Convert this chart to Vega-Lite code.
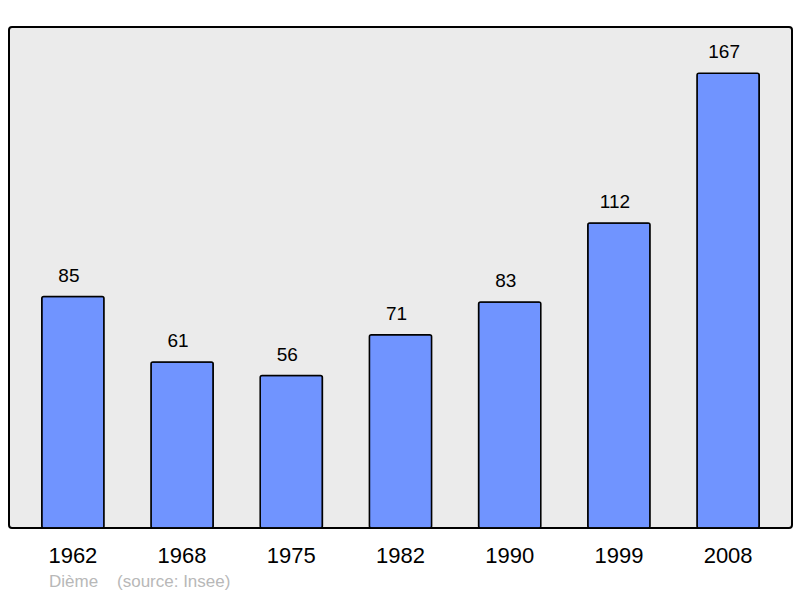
{
  "$schema": "https://vega.github.io/schema/vega-lite/v6.json",
  "autosize": "none",
  "width": 783,
  "height": 501,
  "padding": {"left": 9, "top": 27, "right": 8, "bottom": 70},
  "background": "white",
  "config": {
    "font": "Liberation Sans",
    "view": {"fill": "#ebebeb", "stroke": "#000000", "strokeWidth": 2, "cornerRadius": 3}
  },
  "title": {
    "text": "Dième\u00a0\u00a0\u00a0\u00a0(source: Insee)",
    "orient": "bottom",
    "anchor": "start",
    "dx": 40,
    "offset": 8,
    "fontSize": 17,
    "fontWeight": "normal",
    "color": "#b8b8b8",
    "font": "Liberation Sans"
  },
  "data": {
    "values": [
      {"year": "1962", "pop": 85},
      {"year": "1968", "pop": 61},
      {"year": "1975", "pop": 56},
      {"year": "1982", "pop": 71},
      {"year": "1990", "pop": 83},
      {"year": "1999", "pop": 112},
      {"year": "2008", "pop": 167}
    ]
  },
  "encoding": {
    "x": {
      "field": "year",
      "type": "nominal",
      "sort": null,
      "scale": {"paddingInner": 0.43, "paddingOuter": 0.3},
      "axis": {
        "title": null,
        "labelAngle": 0,
        "labelFontSize": 22,
        "labelColor": "#000000",
        "labelPadding": 17,
        "ticks": false,
        "domain": false,
        "grid": false
      }
    },
    "y": {
      "field": "pop",
      "type": "quantitative",
      "scale": {"domain": [0, 184], "nice": false},
      "axis": null
    }
  },
  "layer": [
    {
      "mark": {"type": "bar", "fill": "#7094ff", "stroke": "#000000", "strokeWidth": 1.5, "cornerRadius": 2}
    },
    {
      "mark": {"type": "text", "baseline": "alphabetic", "dy": -15, "dx": -4, "fontSize": 19, "color": "#000000"},
      "encoding": {"text": {"field": "pop", "type": "quantitative"}}
    }
  ]
}
